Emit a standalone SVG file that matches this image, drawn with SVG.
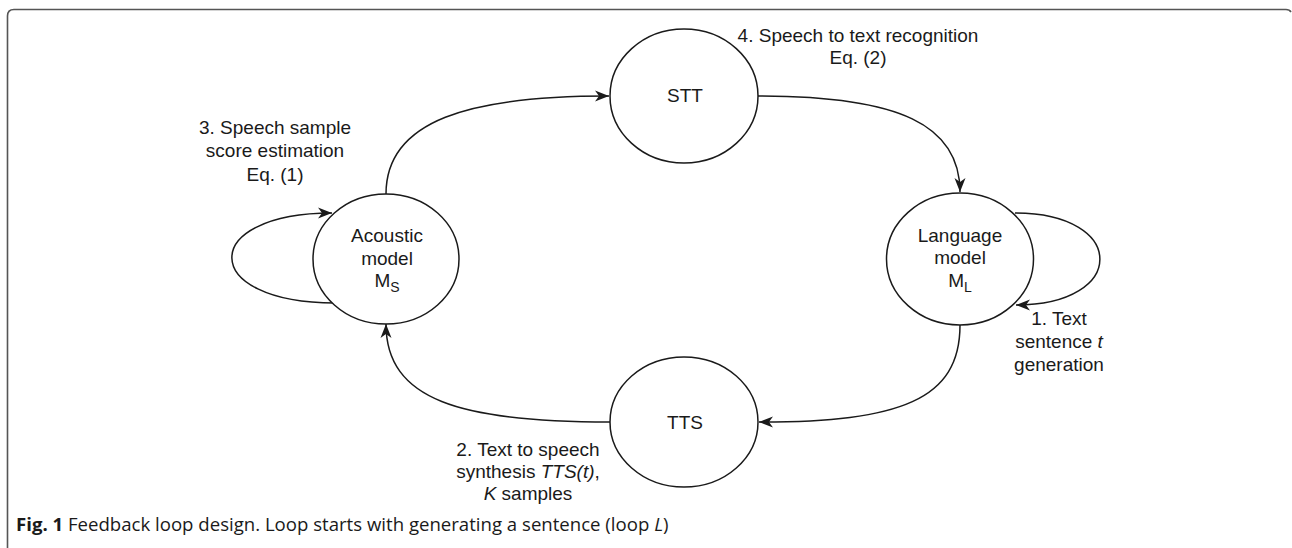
<svg xmlns="http://www.w3.org/2000/svg" width="1292" height="548" viewBox="0 0 1292 548">
<defs>
<style>
.node ellipse{fill:#fff;stroke:#1a1a1a;stroke-width:1.5}
.t{font-family:"Liberation Sans",Arial,sans-serif;font-size:19px;fill:#1a1a1a;text-anchor:middle}
.sub{font-size:14px;fill:#1a1a1a}
.conn path{fill:none;stroke:#1a1a1a;stroke-width:1.5}
.cap{font-family:"Open Sans","Noto Sans",sans-serif;font-size:18.6px;fill:#1a1a1a}
</style>
<marker id="arr" markerUnits="userSpaceOnUse" markerWidth="16" markerHeight="14" refX="14" refY="6" orient="auto">
<path d="M0,0.5 L14,6 L0,11.5 L4,6 z" fill="#1a1a1a"/>
</marker>
</defs>
<rect width="1292" height="548" fill="#fff"/>
<path d="M7.5 548 L7.5 16 Q7.5 9.5 14 9.5 L1286 9.5 Q1289.5 9.5 1291 12" fill="none" stroke="#555" stroke-width="1.6"/>
<g class="conn" id="connectors">
<path d="M386 194 C386 120 470 96 609 96" marker-end="url(#arr)"/>
<path d="M758 96 C900 96 960 125 960 192" marker-end="url(#arr)"/>
<path d="M960 325 C960 400 900 422 759 422" marker-end="url(#arr)"/>
<path d="M610 422 C460 422 386 400 386 324" marker-end="url(#arr)"/>
<path d="M335 303 C198 303 198 213 332 213" marker-end="url(#arr)"/>
<path d="M1015 213 C1128 213 1128 305 1016 305" marker-end="url(#arr)"/>
</g>
<g class="node" id="stt">
<ellipse cx="684" cy="96" rx="74" ry="67"/>
<text class="t" x="685" y="102">STT</text>
</g>
<g class="node" id="acoustic">
<ellipse cx="386" cy="259" rx="73" ry="65"/>
<text class="t" x="387" y="242">Acoustic</text>
<text class="t" x="387" y="265">model</text>
<text class="t" x="387" y="287">M<tspan class="sub" dy="5">S</tspan></text>
</g>
<g class="node" id="language">
<ellipse cx="960" cy="259" rx="73.5" ry="66"/>
<text class="t" x="960" y="242">Language</text>
<text class="t" x="960" y="264">model</text>
<text class="t" x="960" y="287">M<tspan class="sub" dy="5">L</tspan></text>
</g>
<g class="node" id="tts">
<ellipse cx="684" cy="422" rx="74" ry="65"/>
<text class="t" x="685" y="429">TTS</text>
</g>
<g id="labels">
<text class="t" x="275" y="134">3. Speech sample</text>
<text class="t" x="275" y="157">score estimation</text>
<text class="t" x="275" y="181">Eq. (1)</text>
<text class="t" x="858" y="42">4. Speech to text recognition</text>
<text class="t" x="858" y="64">Eq. (2)</text>
<text class="t" x="1059" y="325">1. Text</text>
<text class="t" x="1059" y="348">sentence <tspan font-style="italic">t</tspan></text>
<text class="t" x="1059" y="371">generation</text>
<text class="t" x="528" y="456">2. Text to speech</text>
<text class="t" x="528" y="478">synthesis <tspan font-style="italic">TTS(t)</tspan>,</text>
<text class="t" x="528" y="500"><tspan font-style="italic">K</tspan> samples</text>
</g>
<text class="cap" x="16" y="531"><tspan font-weight="bold">Fig. 1</tspan> Feedback loop design. Loop starts with generating a sentence (loop <tspan font-style="italic">L</tspan>)</text>
</svg>
